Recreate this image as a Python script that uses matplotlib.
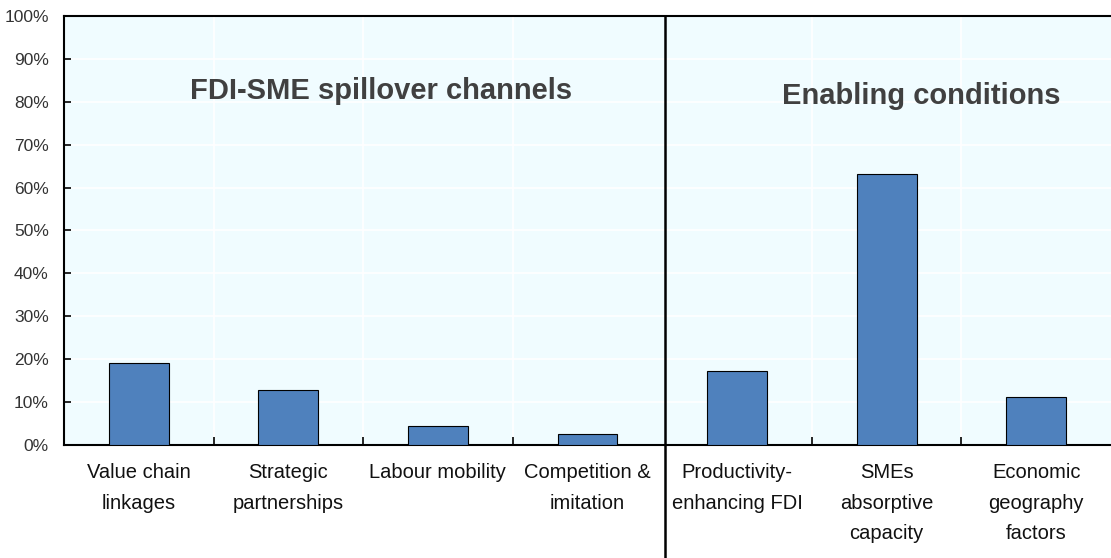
import matplotlib.pyplot as plt
import numpy as np
from matplotlib.ticker import FixedLocator

# data
categories = ["Value chain\nlinkages", "Strategic\npartnerships", "Labour mobility",
              "Competition &\nimitation", "Productivity-\nenhancing FDI",
              "SMEs\nabsorptive\ncapacity", "Economic\ngeography\nfactors"]
shares = [19.1, 12.8, 4.4, 2.6, 17.2, 63.2, 11.2]
group_labels = ["FDI-SME spillover channels", "Enabling conditions"]

plt.rcParams['font.family'] = ['Liberation Sans', 'DejaVu Sans']

fig = plt.figure(figsize=(11.11, 5.58), dpi=100)
ax = fig.add_axes([0.0576, 0.2025, 0.9424, 0.769])
ax.set_facecolor("#F0FCFF")

x = np.arange(len(categories))
ax.bar(x, shares, width=0.4, color="#4F81BD", edgecolor="black", linewidth=0.8, zorder=3)

ax.set_xlim(-0.5, len(categories) - 0.5)
ax.set_ylim(0, 100)

# y axis
ax.set_yticks(np.arange(0, 101, 10))
ax.set_yticklabels([f"{v}%" for v in range(0, 101, 10)])
ax.tick_params(axis="y", direction="in", length=5, width=1.2, labelsize=12.5,
               labelcolor="#333333", pad=11)

# x axis: labels at centres, tick marks at boundaries (the middle one is the divider)
ax.set_xticks(x)
ax.set_xticklabels(categories, fontsize=14.5, color="#111111", linespacing=1.78)
ax.tick_params(axis="x", which="major", length=0, pad=13)
ax.xaxis.set_minor_locator(FixedLocator([0.5, 1.5, 2.5, 4.5, 5.5]))
ax.tick_params(axis="x", which="minor", direction="in", length=6, width=1.2)

ax.grid(axis="y", which="major", color="white", linewidth=1.2, zorder=0)
ax.grid(axis="x", which="minor", color="white", linewidth=1.2, zorder=0)

for s in ["left", "bottom", "top"]:
    ax.spines[s].set_linewidth(1.5)
ax.spines["right"].set_visible(False)

# divider between the two groups, running down through the labels
ax.plot([3.52, 3.52], [-0.27, 1], transform=ax.get_xaxis_transform(),
        color="black", linewidth=1.8, clip_on=False, zorder=5)

ax.text(1.62, 82.5, group_labels[0], ha="center", va="center", fontsize=21,
        fontweight="bold", color="#404040")
ax.text(5.23, 81.4, group_labels[1], ha="center", va="center", fontsize=21,
        fontweight="bold", color="#404040")

fig.savefig("out.png", dpi=100)
